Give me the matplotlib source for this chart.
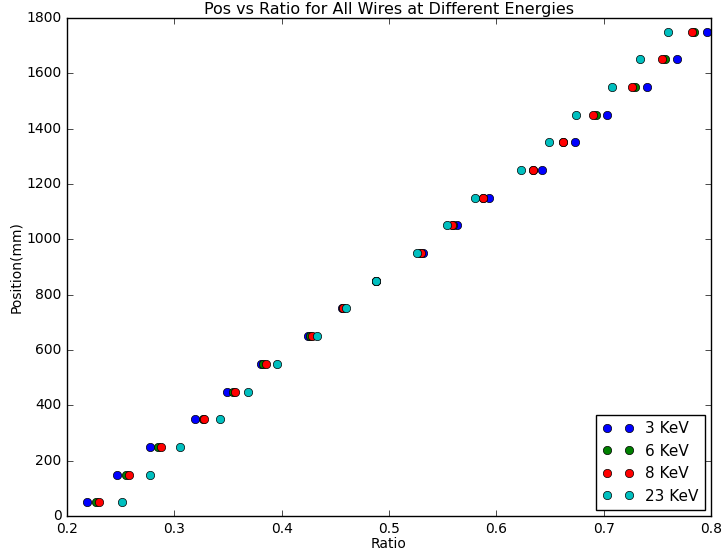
import matplotlib
matplotlib.use("Agg")
import matplotlib.pyplot as plt

plt.style.use("classic")

positions = [50, 150, 250, 350, 450, 550, 650, 750, 850,
             950, 1050, 1150, 1250, 1350, 1450, 1550, 1650, 1750]

ratio_3kev = [0.2183, 0.2469, 0.2770, 0.3193, 0.3494, 0.3808, 0.4248, 0.4560, 0.4876,
              0.5314, 0.5631, 0.5932, 0.6426, 0.6730, 0.7031, 0.7401, 0.7681, 0.7960]
ratio_6kev = [0.2270, 0.2550, 0.2848, 0.3270, 0.3550, 0.3830, 0.4264, 0.4570, 0.4876,
              0.5290, 0.5600, 0.5880, 0.6340, 0.6624, 0.6929, 0.7292, 0.7572, 0.7842]
ratio_8kev = [0.2301, 0.2575, 0.2873, 0.3274, 0.3568, 0.3854, 0.4280, 0.4575, 0.4876,
              0.5295, 0.5584, 0.5873, 0.6339, 0.6624, 0.6904, 0.7267, 0.7547, 0.7820]
ratio_23kev = [0.2512, 0.2770, 0.3053, 0.3428, 0.3689, 0.3959, 0.4332, 0.4603, 0.4876,
               0.5258, 0.5537, 0.5799, 0.6227, 0.6488, 0.6742, 0.7075, 0.7342, 0.7600]

series = [
    ("3 KeV", ratio_3kev, "b"),
    ("6 KeV", ratio_6kev, "g"),
    ("8 KeV", ratio_8kev, "r"),
    ("23 KeV", ratio_23kev, "c"),
]

fig = plt.figure(figsize=(7.24, 5.57), dpi=100, facecolor="white")
ax = fig.add_axes([0.0925, 0.0736, 0.8895, 0.8941])

for label, vals, color in series:
    ax.plot(vals, positions, "o", color=color, markersize=6,
            markeredgecolor="black", markeredgewidth=0.5, label=label)

ax.set_xlim(0.2, 0.8)
ax.set_ylim(0, 1800)
ax.set_xticks([0.2, 0.3, 0.4, 0.5, 0.6, 0.7, 0.8])
ax.set_yticks(range(0, 1801, 200))
ax.tick_params(labelsize=10)
ax.set_xlabel("Ratio", fontsize=10, labelpad=1)
ax.set_ylabel("Position(mm)", fontsize=10, labelpad=2)
ax.set_title("Pos vs Ratio for All Wires at Different Energies", fontsize=11.5, pad=3)
ax.legend(loc="lower right", numpoints=2, fontsize=11, borderaxespad=0.4)

fig.savefig("out.png", dpi=100, facecolor="white")
